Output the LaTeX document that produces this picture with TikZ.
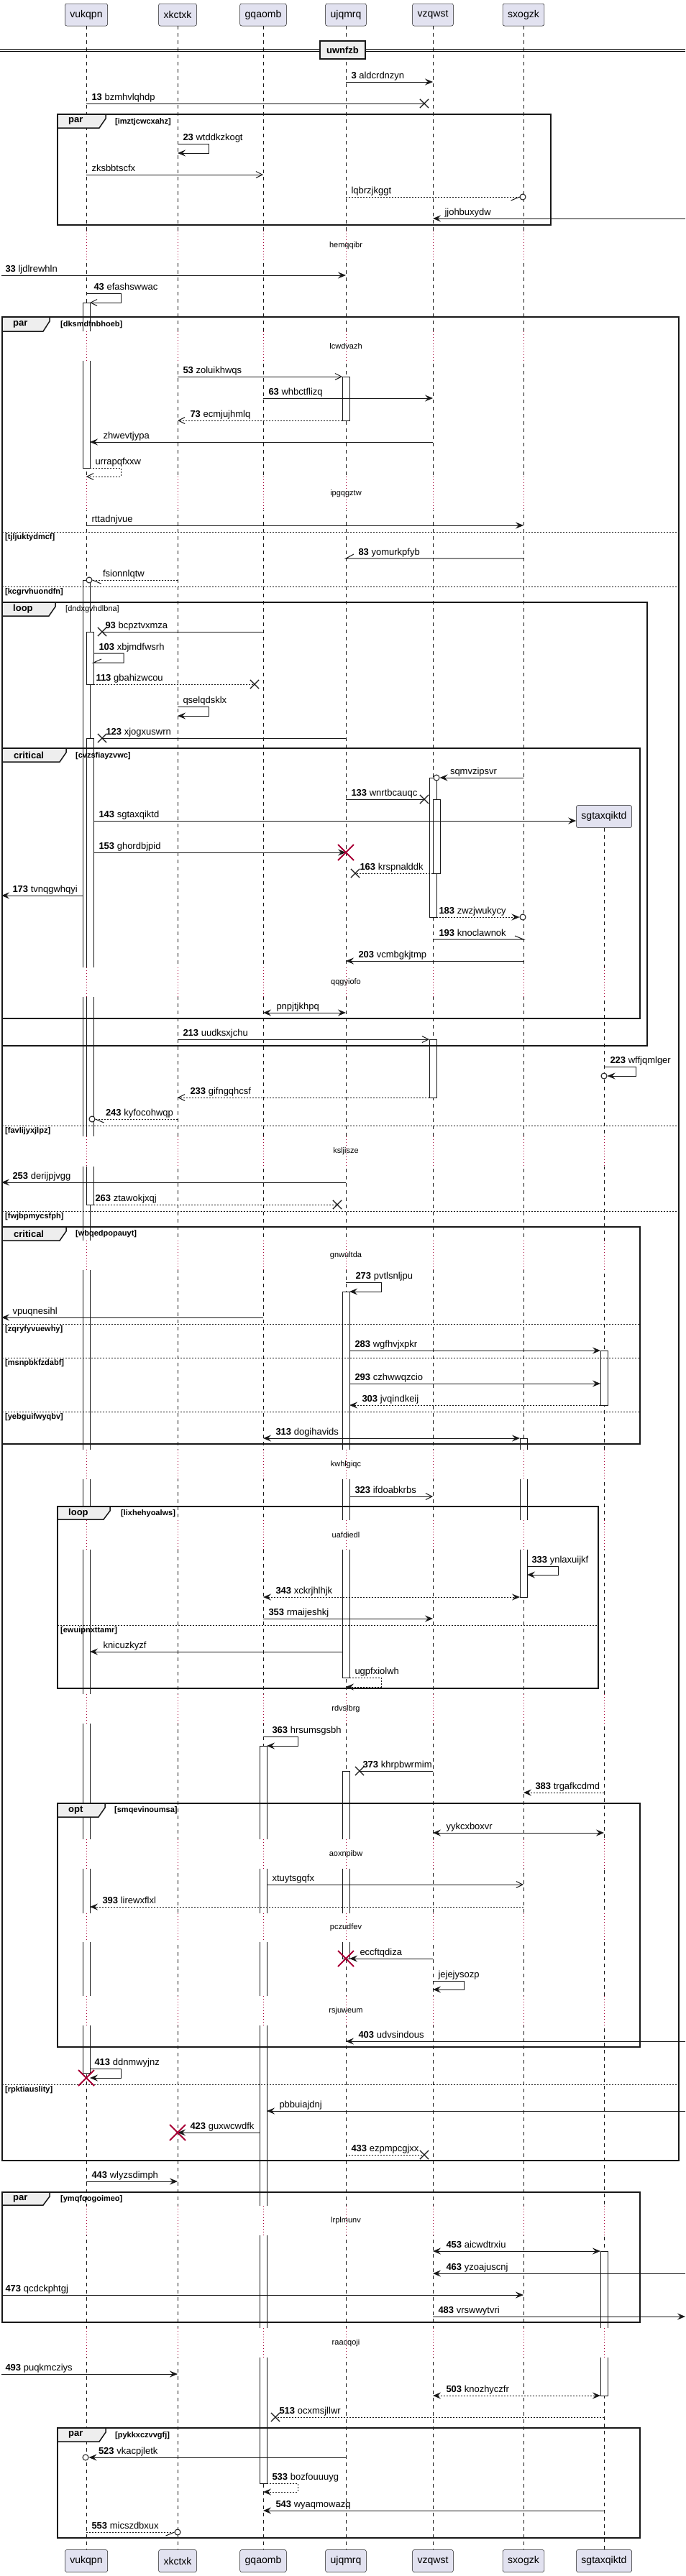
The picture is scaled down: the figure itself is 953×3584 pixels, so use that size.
\documentclass[tikz,border=0pt]{standalone}
\usepackage{fontspec}
\setmainfont{Liberation Sans}
\usetikzlibrary{arrows.meta,shapes.misc}
\definecolor{lineblack}{HTML}{181818}
\definecolor{partfill}{HTML}{E2E2F0}
\definecolor{tabfill}{HTML}{EEEEEE}
\definecolor{delayred}{HTML}{A80036}
\tikzset{
 fillArrow/.tip={Stealth[length=11pt,width=9pt,inset=4pt]},
 openArrow/.tip={Straight Barb[length=9pt,width=9pt]}
}
\tikzstyle{participant} = [
 rectangle,
 rounded corners=2.5pt,
 draw=lineblack,
 line width=0.5pt,
 fill=partfill,
 minimum height=31pt,
 inner xsep=7pt,
 font=\fontsize{14}{16}\selectfont
]
\tikzstyle{lifeline} = [draw=lineblack, line width=0.5pt, dash pattern=on 5pt off 5pt]
\tikzstyle{activation} = [draw=lineblack, line width=0.5pt, fill=white]
\tikzstyle{delayLine} = [draw=delayred, line width=0.8pt, dash pattern=on 1pt off 3pt]
\tikzstyle{delayText} = [inner sep=0pt, font=\fontsize{11}{13}\selectfont]
\tikzstyle{msg} = [draw=lineblack, line width=1pt]
\tikzstyle{reply} = [msg, dash pattern=on 2pt off 2pt]
\tikzstyle{msgLabel} = [anchor=base west, inner sep=0pt, yshift=5pt, font=\fontsize{13}{15}\selectfont]
\tikzstyle{frameBox} = [draw=lineblack, line width=1.5pt]
\tikzstyle{frameTab} = [draw=lineblack, line width=1.5pt, fill=tabfill]
\tikzstyle{tabLabel} = [anchor=west, inner sep=0pt, font=\bfseries\fontsize{13}{15}\selectfont]
\tikzstyle{guard} = [anchor=west, inner sep=0pt, font=\bfseries\fontsize{11}{13}\selectfont]
\tikzstyle{elseLine} = [draw=lineblack, line width=1pt, dash pattern=on 2pt off 2pt]
\tikzstyle{lostX} = [cross out, draw=lineblack, line width=1.2pt, minimum size=11pt, inner sep=0pt]
\tikzstyle{destroyX} = [cross out, draw=delayred, line width=2pt, minimum size=20pt, inner sep=0pt]
\tikzstyle{endCircle} = [circle, draw=lineblack, line width=1pt, fill=white, minimum size=8pt, inner sep=0pt]
\tikzstyle{dividerBox} = [draw=lineblack, line width=1.5pt, fill=tabfill, minimum height=25pt, inner xsep=9pt, font=\bfseries\fontsize{13}{15}\selectfont]

\begin{document}
\begin{tikzpicture}[x=1pt, y=-1pt]
\useasboundingbox (0,0) rectangle (953,3584);
\coordinate (leftEdge) at (2,0);
\coordinate (rightEdge) at (953,0);

% participants
\node[participant] (vuk) at (120,20.5) {vukqpn};
\node[participant] (xkc) at (247,20.5) {xkctxk};
\node[participant] (gqa) at (366,20.5) {gqaomb};
\node[participant] (ujq) at (481,20.5) {ujqmrq};
\node[participant] (vzq) at (602,20.5) {vzqwst};
\node[participant] (sxo) at (728,20.5) {sxogzk};
\node[participant] (sgtTop) at (840,1136) {sgtaxqiktd};
\node[participant] (vukEnd) at (120,3563) {vukqpn};
\node[participant] (xkcEnd) at (247,3563) {xkctxk};
\node[participant] (gqaEnd) at (366,3563) {gqaomb};
\node[participant] (ujqEnd) at (481,3563) {ujqmrq};
\node[participant] (vzqEnd) at (602,3563) {vzqwst};
\node[participant] (sxoEnd) at (728,3563) {sxogzk};
\node[participant] (sgtEnd) at (840,3563) {sgtaxqiktd};
\foreach \p in {vuk,xkc,gqa,ujq,vzq,sxo}
  \draw[lifeline] (\p) -- (\p End);
\draw[lifeline] (sgtTop) -- (sgtEnd);

% activations
\draw[activation] (115,421) rectangle (125,651);
\draw[activation] (115,807) rectangle (125,2884);
\draw[activation] (120,879) rectangle (130,952);
\draw[activation] (120,1027) rectangle (130,1676);
\draw[activation] (361,2429) rectangle (371,3455);
\draw[activation] (476,524) rectangle (486,585);
\draw[activation] (476,1797) rectangle (486,2334);
\draw[activation] (476,2464) rectangle (486,2725);
\draw[activation] (597,1082) rectangle (607,1276);
\draw[activation] (602,1112) rectangle (612,1215);
\draw[activation] (597,1446) rectangle (607,1527);
\draw[activation] (723,2001) rectangle (733,2222);
\draw[activation] (835,1879) rectangle (845,1955);
\draw[activation] (835,3132) rectangle (845,3333);

% delays
\foreach \ya/\yb/\txt in {321/363/hemqqibr, 461/502/lcwdvazh, 663/710/ipgqgztw} {
  \foreach \lx in {120,247,366,481,602,728} {
    \fill[white] (\lx-7,\ya) rectangle (\lx+12,\yb);
    \draw[delayLine] (\lx,\ya) -- (\lx,\yb);
  }
  \node[delayText] (delay-\txt) at (481,{(\ya+\yb)/2}) {\txt};
}
\foreach \ya/\yb/\txt in {1346/1387/qqgyiofo, 1581/1623/ksljisze, 1726/1767/gnwultda,
    2017/2058/kwhlgiqc, 2115/2156/uafdiedl, 2357/2398/rdvslbrg, 2559/2600/aoxnpibw,
    2662/2702/pczudfev, 2777/2818/rsjuweum, 3069/3110/lrplmunv, 3239/3280/raacqoji} {
  \foreach \lx in {120,247,366,481,602,728,840} {
    \fill[white] (\lx-7,\ya) rectangle (\lx+12,\yb);
    \draw[delayLine] (\lx,\ya) -- (\lx,\yb);
  }
  \node[delayText] (delay-\txt) at (481,{(\ya+\yb)/2}) {\txt};
}

% divider
\draw[line width=1pt] (0,68) -- (953,68) (0,71.5) -- (953,71.5);
\node[dividerBox] (uwnfzb) at (476.5,69.5) {uwnfzb};

% frames
\draw[frameBox] (80,159) rectangle (766,313);
\draw[frameTab] (80,159) -- (147,159) -- (147,165) -- (138,178) -- (80,178) -- cycle;
\node[tabLabel] (parA) at (95,168.5) {par};
\node[guard] (parAGuard) at (160,169.5) {[imztjcwcxahz]};

\draw[frameBox] (3,441) rectangle (944,3006);
\draw[frameTab] (3,441) -- (69,441) -- (69,447) -- (60,461) -- (3,461) -- cycle;
\node[tabLabel] (parB) at (18,451) {par};
\node[guard] (parBGuard) at (84,452) {[dksmdfnbhoeb]};
\foreach \ye/\txt in {740/tjljuktydmcf, 816/kcgrvhuondfn, 1566/favlijyxjlpz, 1685/fwjbpmycsfph, 2900/rpktiauslity} {
  \draw[elseLine] (3,\ye) -- (944,\ye);
  \node[guard] (else-\txt) at (7,\ye+8) {[\txt]};
}

\draw[frameBox] (3,838) rectangle (900,1455);
\draw[frameTab] (3,838) -- (77,838) -- (77,844) -- (68,857) -- (3,857) -- cycle;
\node[tabLabel] (loopA) at (18,847.5) {loop};
\node[guard, font=\fontsize{11}{13}\selectfont] (loopAGuard) at (91,848) {[dndxgvhdlbna]};

\draw[frameBox] (3,1041) rectangle (890,1417);
\draw[frameTab] (3,1041) -- (92,1041) -- (92,1047) -- (83,1060) -- (3,1060) -- cycle;
\node[tabLabel] (criticalA) at (19,1050.5) {critical};
\node[guard] (criticalAGuard) at (105,1052) {[cvzsfiayzvwc]};

\draw[frameBox] (3,1707) rectangle (890,2009);
\draw[frameTab] (3,1707) -- (92,1707) -- (92,1713) -- (83,1726) -- (3,1726) -- cycle;
\node[tabLabel] (criticalB) at (19,1716.5) {critical};
\node[guard] (criticalBGuard) at (105,1717) {[wbqedpopauyt]};
\foreach \ye/\txt in {1842/zqryfyvuewhy, 1889/msnpbkfzdabf, 1964/yebguifwyqbv} {
  \draw[elseLine] (3,\ye) -- (890,\ye);
  \node[guard] (else-\txt) at (7,\ye+8) {[\txt]};
}

\draw[frameBox] (80,2096) rectangle (832,2349);
\draw[frameTab] (80,2096) -- (153,2096) -- (153,2102) -- (144,2114) -- (80,2114) -- cycle;
\node[tabLabel] (loopB) at (95,2105) {loop};
\node[guard] (loopBGuard) at (168,2106) {[lixhehyoalws]};
\draw[elseLine] (80,2261) -- (832,2261);
\node[guard] (else-ewuipnxttamr) at (84,2269) {[ewuipnxttamr]};

\draw[frameBox] (80,2509) rectangle (890,2848);
\draw[frameTab] (80,2509) -- (146,2509) -- (146,2515) -- (137,2528) -- (80,2528) -- cycle;
\node[tabLabel] (optA) at (95,2518.5) {opt};
\node[guard] (optAGuard) at (159,2519) {[smqevinoumsa]};

\draw[frameBox] (3,3050) rectangle (890,3231);
\draw[frameTab] (3,3050) -- (69,3050) -- (69,3056) -- (60,3068) -- (3,3068) -- cycle;
\node[tabLabel] (parC) at (18,3059) {par};
\node[guard] (parCGuard) at (84,3060) {[ymqfqogoimeo]};

\draw[frameBox] (80,3378) rectangle (890,3531);
\draw[frameTab] (80,3378) -- (147,3378) -- (147,3384) -- (138,3397) -- (80,3397) -- cycle;
\node[tabLabel] (parD) at (95,3387.5) {par};
\node[guard] (parDGuard) at (160,3389) {[pykkxczvvgfj]};

% messages
\draw[msg, -fillArrow] (ujq |- 0,114) node[msgLabel, xshift=7pt] {\textbf{3} aldcrdnzyn} -- (vzq |- 0,114);
\node[lostX] (lost13) at (590,144) {};
\draw[msg] (vuk |- 0,144) node[msgLabel, xshift=7pt] {\textbf{13} bzmhvlqhdp} -- (lost13.center);
\draw[msg, -fillArrow] (xkc |- 0,200) node[msgLabel, xshift=7pt] {\textbf{23} wtddkzkogt} -- ++(43,0) |- (xkc |- 0,213);
\draw[msg, -openArrow] (vuk |- 0,243) node[msgLabel, xshift=7pt] {zksbbtscfx} -- (gqa |- 0,243);
\node[endCircle] (circ5) at (727,274) {};
\draw[reply] (ujq |- 0,274) node[msgLabel, xshift=7pt] {lqbrzjkggt} -- (circ5.west);
\draw[msg] (circ5.west) -- ++(-12,5);
\draw[msg, -fillArrow] (rightEdge |- 0,304) -- (vzq |- 0,304) node[msgLabel, xshift=16pt] {jjohbuxydw};
\draw[msg, -fillArrow] (leftEdge |- 0,383) node[msgLabel, xshift=5pt] {\textbf{33} ljdlrewhln} -- (ujq |- 0,383);
\draw[msg, -openArrow] (vuk |- 0,408) node[msgLabel, xshift=10pt] {\textbf{43} efashswwac} -- ++(48,0) |- ([xshift=5pt]vuk |- 0,421);
\draw[msg, -openArrow] (xkc |- 0,524) node[msgLabel, xshift=7pt] {\textbf{53} zoluikhwqs} -- ([xshift=-5pt]ujq |- 0,524);
\draw[msg, -fillArrow] (gqa |- 0,554) node[msgLabel, xshift=7pt] {\textbf{63} whbctflizq} -- (vzq |- 0,554);
\draw[reply, -openArrow] ([xshift=-5pt]ujq |- 0,585) -- (xkc |- 0,585) node[msgLabel, xshift=17pt] {\textbf{73} ecmjujhmlq};
\draw[msg, -fillArrow] (vzq |- 0,615) -- ([xshift=5pt]vuk |- 0,615) node[msgLabel, xshift=18pt] {zhwevtjypa};
\draw[reply, -openArrow] ([xshift=5pt]vuk |- 0,651) node[msgLabel, xshift=7pt] {urrapqfxxw} -- ++(43,0) |- (vuk |- 0,663);
\draw[msg, -fillArrow] (vuk |- 0,731) node[msgLabel, xshift=7pt] {rttadnjvue} -- (sxo |- 0,731);
\draw[msg] (sxo |- 0,777) -- (ujq |- 0,777) node[msgLabel, xshift=17pt] {\textbf{83} yomurkpfyb} -- ++(11,-6);
\node[endCircle] (circ16) at (124,807) {};
\draw[reply] (xkc |- 0,807) -- (circ16.east) node[msgLabel, xshift=14pt] {fsionnlqtw};
\draw[msg] (circ16.east) -- ++(12,5);
\node[lostX] (lost93) at (142,879) {};
\draw[msg] (gqa |- 0,879) -- (lost93.center) node[msgLabel, xshift=4pt] {\textbf{93} bcpztvxmza};
\draw[msg] ([xshift=10pt]vuk |- 0,909) node[msgLabel, xshift=7pt] {\textbf{103} xbjmdfwsrh} -- ++(42,0) |- ([xshift=10pt]vuk |- 0,922) -- ++(11,-5);
\node[lostX] (lost113) at (354,952) {};
\draw[reply] ([xshift=10pt]vuk |- 0,952) node[msgLabel, xshift=3pt] {\textbf{113} gbahizwcou} -- (lost113.center);
\draw[msg, -fillArrow] (xkc |- 0,983) node[msgLabel, xshift=7pt] {qselqdsklx} -- ++(43,0) |- (xkc |- 0,996);
\node[lostX] (lost123) at (142,1027) {};
\draw[msg] (ujq |- 0,1027) -- (lost123.center) node[msgLabel, xshift=5pt] {\textbf{123} xjogxuswrn};
\node[endCircle] (circ22) at (607,1082) {};
\draw[msg, -fillArrow] (sxo |- 0,1082) -- (circ22.east) node[msgLabel, xshift=14pt] {sqmvzipsvr};
\node[lostX] (lost133) at (590,1112) {};
\draw[msg] (ujq |- 0,1112) node[msgLabel, xshift=7pt] {\textbf{133} wnrtbcauqc} -- (lost133.center);
\draw[msg, -fillArrow] ([xshift=10pt]vuk |- 0,1142) node[msgLabel, xshift=7pt] {\textbf{143} sgtaxqiktd} -- (sgtTop.west |- 0,1142);
\draw[msg, -fillArrow] ([xshift=10pt]vuk |- 0,1186) node[msgLabel, xshift=7pt] {\textbf{153} ghordbjpid} -- (ujq |- 0,1186);
\node[destroyX] (kill153) at (481,1186) {};
\node[lostX] (lost163) at (494,1215) {};
\draw[reply] (vzq |- 0,1215) -- (lost163.center) node[msgLabel, xshift=6pt] {\textbf{163} krspnalddk};
\draw[msg, -fillArrow] ([xshift=-5pt]vuk |- 0,1246) -- (leftEdge |- 0,1246) node[msgLabel, xshift=15pt] {\textbf{173} tvnqgwhqyi};
\node[endCircle] (circ28) at (727,1276) {};
\draw[reply, -fillArrow] ([xshift=5pt]vzq |- 0,1276) node[msgLabel, xshift=3pt] {\textbf{183} zwzjwukycy} -- (circ28.west);
\draw[msg] (vzq |- 0,1307) node[msgLabel, xshift=8pt] {\textbf{193} knoclawnok} -- (sxo |- 0,1307) -- ++(-12,-5);
\draw[msg, -fillArrow] (sxo |- 0,1337) -- (ujq |- 0,1337) node[msgLabel, xshift=17pt] {\textbf{203} vcmbgkjtmp};
\draw[msg, fillArrow-fillArrow] (gqa |- 0,1409) node[msgLabel, xshift=18pt] {pnpjtjkhpq} -- (ujq |- 0,1409);
\draw[msg, -openArrow] (xkc |- 0,1446) node[msgLabel, xshift=7pt] {\textbf{213} uudksxjchu} -- ([xshift=-5pt]vzq |- 0,1446);
\node[endCircle] (circ33) at (840,1497) {};
\draw[msg, -fillArrow] (sgtTop |- 0,1484) node[msgLabel, xshift=8pt] {\textbf{223} wffjqmlger} -- ++(44,0) |- (circ33.east);
\draw[reply, -openArrow] ([xshift=-5pt]vzq |- 0,1527) -- (xkc |- 0,1527) node[msgLabel, xshift=17pt] {\textbf{233} gifngqhcsf};
\node[endCircle] (circ35) at (128,1557) {};
\draw[reply] (xkc |- 0,1557) -- (circ35.east) node[msgLabel, xshift=14pt] {\textbf{243} kyfocohwqp};
\draw[msg] (circ35.east) -- ++(12,5);
\draw[msg, -fillArrow] (ujq |- 0,1645) -- (leftEdge |- 0,1645) node[msgLabel, xshift=15pt] {\textbf{253} derijpjvgg};
\node[lostX] (lost263) at (469,1676) {};
\draw[reply] ([xshift=10pt]vuk |- 0,1676) node[msgLabel, xshift=2pt] {\textbf{263} ztawokjxqj} -- (lost263.center);
\draw[msg, -fillArrow] (ujq |- 0,1784) node[msgLabel, xshift=13pt] {\textbf{273} pvtlsnljpu} -- ++(49,0) |- ([xshift=5pt]ujq |- 0,1797);
\draw[msg, -fillArrow] (gqa |- 0,1833) -- (leftEdge |- 0,1833) node[msgLabel, xshift=15pt] {vpuqnesihl};
\draw[msg, -fillArrow] ([xshift=5pt]ujq |- 0,1879) node[msgLabel, xshift=7pt] {\textbf{283} wgfhvjxpkr} -- ([xshift=-5pt]sgtTop |- 0,1879);
\draw[msg, -fillArrow] ([xshift=5pt]ujq |- 0,1925) node[msgLabel, xshift=7pt] {\textbf{293} czhwwqzcio} -- ([xshift=-5pt]sgtTop |- 0,1925);
\draw[reply, -fillArrow] ([xshift=-5pt]sgtTop |- 0,1955) -- ([xshift=5pt]ujq |- 0,1955) node[msgLabel, xshift=17pt] {\textbf{303} jvqindkeij};
\draw[msg, fillArrow-fillArrow] (gqa |- 0,2001) node[msgLabel, xshift=17pt] {\textbf{313} dogihavids} -- ([xshift=-5pt]sxo |- 0,2001);
\draw[msg, -openArrow] ([xshift=5pt]ujq |- 0,2082) node[msgLabel, xshift=7pt] {\textbf{323} ifdoabkrbs} -- (vzq |- 0,2082);
\draw[msg, -fillArrow] ([xshift=5pt]sxo |- 0,2179) node[msgLabel, xshift=6pt] {\textbf{333} ynlaxuijkf} -- ++(43,0) |- ([xshift=5pt]sxo |- 0,2191);
\draw[reply, fillArrow-fillArrow] (gqa |- 0,2222) node[msgLabel, xshift=17pt] {\textbf{343} xckrjhlhjk} -- ([xshift=-5pt]sxo |- 0,2222);
\draw[msg, -fillArrow] (gqa |- 0,2252) node[msgLabel, xshift=7pt] {\textbf{353} rmaijeshkj} -- (vzq |- 0,2252);
\draw[msg, -fillArrow] ([xshift=-5pt]ujq |- 0,2298) -- ([xshift=5pt]vuk |- 0,2298) node[msgLabel, xshift=18pt] {knicuzkyzf};
\draw[reply, -fillArrow] ([xshift=5pt]ujq |- 0,2334) node[msgLabel, xshift=7pt] {ugpfxiolwh} -- ++(44,0) |- (ujq |- 0,2347);
\draw[msg, -fillArrow] (gqa |- 0,2416) node[msgLabel, xshift=12pt] {\textbf{363} hrsumsgsbh} -- ++(48,0) |- ([xshift=5pt]gqa |- 0,2429);
\node[lostX] (lost373) at (500,2464) {};
\draw[msg] (vzq |- 0,2464) -- (lost373.center) node[msgLabel, xshift=4pt] {\textbf{373} khrpbwrmim};
\draw[reply, -fillArrow] (sgtTop |- 0,2494) -- (sxo |- 0,2494) node[msgLabel, xshift=16pt] {\textbf{383} trgafkcdmd};
\draw[msg, fillArrow-fillArrow] (vzq |- 0,2550) node[msgLabel, xshift=18pt] {yykcxboxvr} -- (sgtTop |- 0,2550);
\draw[msg, -openArrow] ([xshift=5pt]gqa |- 0,2622) node[msgLabel, xshift=7pt] {xtuytsgqfx} -- (sxo |- 0,2622);
\draw[reply, -fillArrow] (sxo |- 0,2653) -- ([xshift=5pt]vuk |- 0,2653) node[msgLabel, xshift=17pt] {\textbf{393} lirewxflxl};
\draw[msg, -fillArrow] (vzq |- 0,2725) -- ([xshift=5pt]ujq |- 0,2725) node[msgLabel, xshift=14pt] {eccftqdiza};
\node[destroyX] (kill2725) at (481,2725) {};
\draw[msg, -fillArrow] (vzq |- 0,2756) node[msgLabel, xshift=7pt] {jejejysozp} -- ++(43,0) |- (vzq |- 0,2768);
\draw[msg, -fillArrow] (rightEdge |- 0,2840) -- (ujq |- 0,2840) node[msgLabel, xshift=17pt] {\textbf{403} udvsindous};
\draw[msg, -fillArrow] ([xshift=5pt]vuk |- 0,2878) node[msgLabel, xshift=6pt] {\textbf{413} ddnmwyjnz} -- ++(43,0) |- ([xshift=5pt]vuk |- 0,2891);
\node[destroyX] (kill413) at (120,2891) {};
\draw[msg, -fillArrow] (rightEdge |- 0,2937) -- ([xshift=5pt]gqa |- 0,2937) node[msgLabel, xshift=17pt] {pbbuiajdnj};
\draw[msg, -fillArrow] ([xshift=-5pt]gqa |- 0,2967) -- (xkc |- 0,2967) node[msgLabel, xshift=17pt] {\textbf{423} guxwcwdfk};
\node[destroyX] (kill423) at (247,2967) {};
\node[lostX] (lost433) at (590,2998) {};
\draw[reply] (ujq |- 0,2998) node[msgLabel, xshift=7pt] {\textbf{433} ezpmpcgjxx} -- (lost433.center);
\draw[msg, -fillArrow] (vuk |- 0,3035) node[msgLabel, xshift=7pt] {\textbf{443} wlyzsdimph} -- (xkc |- 0,3035);
\draw[msg, fillArrow-fillArrow] (vzq |- 0,3132) node[msgLabel, xshift=18pt] {\textbf{453} aicwdtrxiu} -- ([xshift=-5pt]sgtTop |- 0,3132);
\draw[msg, -fillArrow] (rightEdge |- 0,3163) -- (vzq |- 0,3163) node[msgLabel, xshift=18pt] {\textbf{463} yzoajuscnj};
\draw[msg, -fillArrow] (leftEdge |- 0,3193) node[msgLabel, xshift=5pt] {\textbf{473} qcdckphtgj} -- (sxo |- 0,3193);
\draw[msg, -fillArrow] (vzq |- 0,3223) node[msgLabel, xshift=7pt] {\textbf{483} vrswwytvri} -- (rightEdge |- 0,3223);
\draw[msg, -fillArrow] (leftEdge |- 0,3303) node[msgLabel, xshift=5pt] {\textbf{493} puqkmcziys} -- (xkc |- 0,3303);
\draw[reply, fillArrow-fillArrow] (vzq |- 0,3333) node[msgLabel, xshift=18pt] {\textbf{503} knozhyczfr} -- ([xshift=-5pt]sgtTop |- 0,3333);
\node[lostX] (lost513) at (383,3363) {};
\draw[reply] (sgtTop |- 0,3363) -- (lost513.center) node[msgLabel, xshift=5pt] {\textbf{513} ocxmsjllwr};
\node[endCircle] (circ71) at (119,3419) {};
\draw[msg, -fillArrow] (ujq |- 0,3419) -- (circ71.east) node[msgLabel, xshift=13pt] {\textbf{523} vkacpjletk};
\draw[reply, -fillArrow] ([xshift=5pt]gqa |- 0,3455) node[msgLabel, xshift=7pt] {\textbf{533} bozfouuuyg} -- ++(43,0) |- (gqa |- 0,3467);
\draw[msg, -fillArrow] (sgtTop |- 0,3493) -- (gqa |- 0,3493) node[msgLabel, xshift=17pt] {\textbf{543} wyaqmowazq};
\node[endCircle] (circ74) at (247,3523) {};
\draw[reply] (vuk |- 0,3523) node[msgLabel, xshift=7pt] {\textbf{553} micszdbxux} -- (circ74.west);
\draw[msg] (circ74.west) -- ++(-12,5);
\end{tikzpicture}
\end{document}
